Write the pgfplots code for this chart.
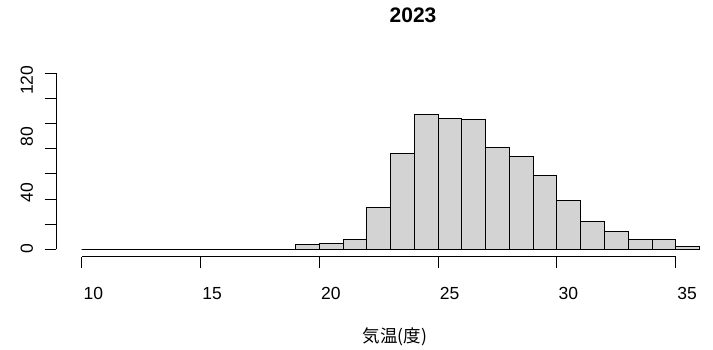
\documentclass[border=0pt]{standalone}
\usepackage{fontspec}
\setmainfont{Liberation Sans}
\newfontfamily\jp{Noto Sans CJK JP}
\usepackage{pgfplots}
\pgfplotsset{compat=1.18}
\definecolor{rgray}{HTML}{D3D3D3}
\begin{document}
\begin{tikzpicture}
\begin{axis}[
  at={(56.3pt,-256.7pt)}, anchor=south west,
  scale only axis, width=655pt, height=183.4pt,
  xmin=8.93, xmax=36.5, ymin=-5.9, ymax=140,
  axis line style={draw=none},
  tick pos=left,
  tick align=outside,
  major tick length=11.6pt,
  tick style={black, line width=0.8pt},
  xtick={10,15,20,25,30,35},
  ytick={0,20,40,60,80,100,120,140},
  yticklabels={,,,,,,,},
  /pgf/number format/assume math mode=true,
  ticklabel style={font=\fontsize{17.5}{17.5}\selectfont},
  xticklabel style={anchor=north west, inner sep=0pt, xshift=1.6pt, yshift=-18.5pt},
  extra y ticks={0.8,45.3,89.9,134.4},
  extra y tick labels={0,40,80,120},
  extra y tick style={major tick length=0pt, tick style={draw=none},
    yticklabel style={xshift=-19.8pt, rotate=90, anchor=south}},
  title={2023},
  title style={font=\bfseries\fontsize{21}{21}\selectfont, anchor=base, at={(axis description cs:0.5446,1.2454)}},
  xlabel={{\jp 気温(度)}},
  xlabel style={font=\fontsize{17.5}{17.5}\selectfont, anchor=center, at={(axis description cs:0.5171,-0.4378)}},
  clip=false,
]
\addplot[ybar interval, fill=rgray, draw=black, line width=0.8pt] coordinates {
(10,0) (11,0) (12,0) (13,0) (14,0) (15,0) (16,0) (17,0) (18,0)
(19,4) (20,5) (21,8) (22,33) (23,76) (24,107) (25,104) (26,103)
(27,81) (28,74) (29,59) (30,39) (31,22) (32,14) (33,8) (34,8) (35,2) (36,0)
};
\draw[black, line width=0.8pt] (axis cs:10,-5.9) -- (axis cs:35,-5.9);
\draw[black, line width=0.8pt] (axis cs:8.93,0) -- (axis cs:8.93,140);
\end{axis}
\pgfresetboundingbox
\useasboundingbox (0,0) rectangle (713pt,-349pt);
\end{tikzpicture}
\end{document}
